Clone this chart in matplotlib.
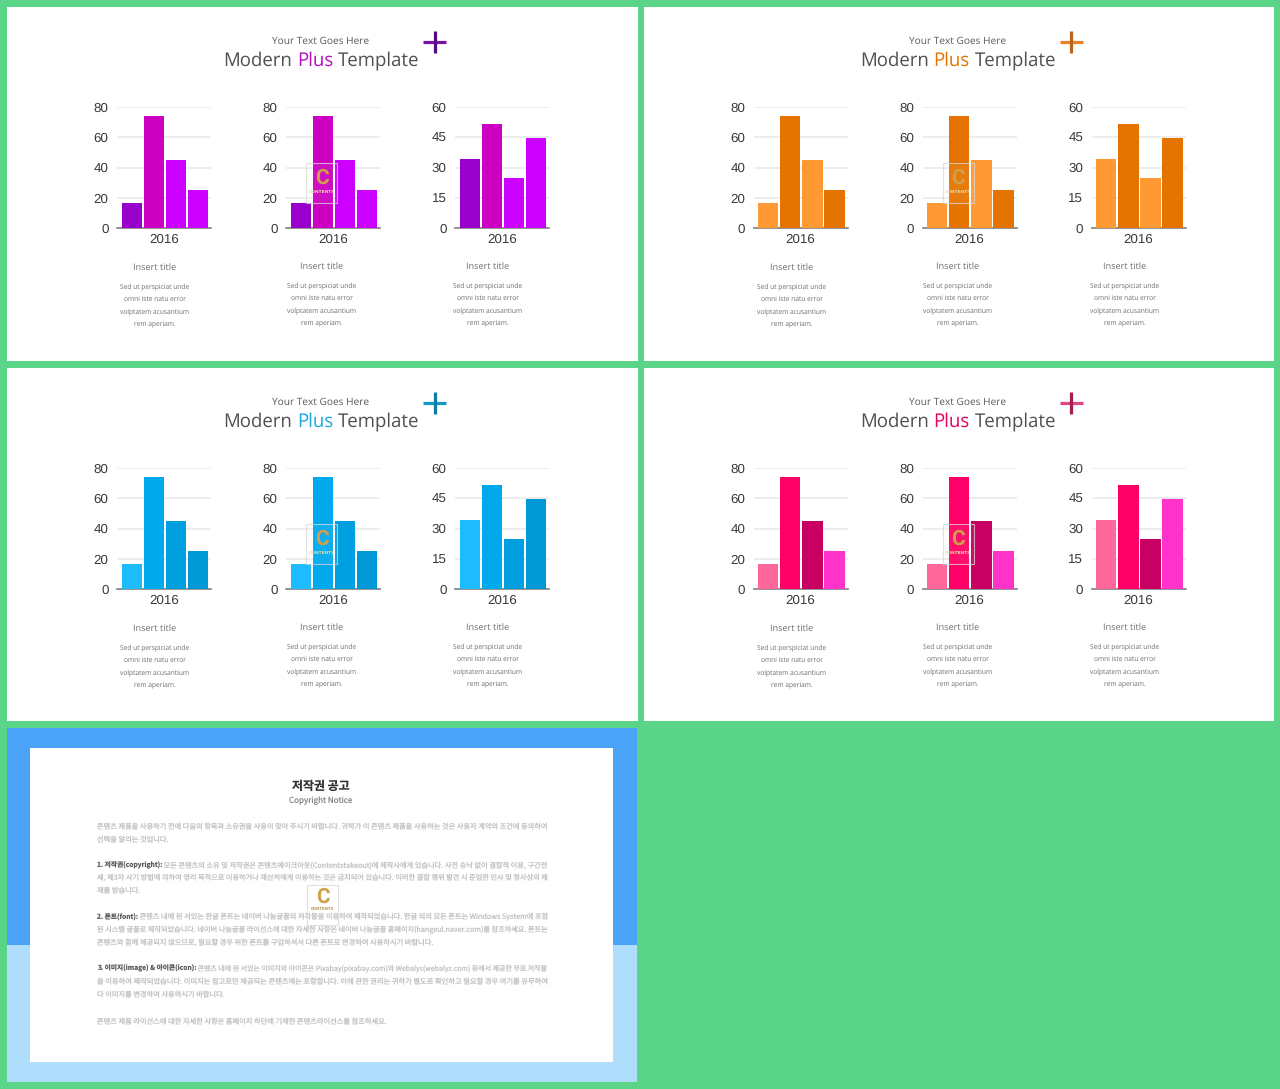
import matplotlib
matplotlib.use('Agg')
import matplotlib.pyplot as plt
from matplotlib.patches import Rectangle

plt.rcParams['text.hinting'] = 'no_hinting'

W, H = 1280, 1089

# --- data -------------------------------------------------------------------
chart_values = [[16.7, 74, 44.8, 25], [16.7, 74, 44.8, 25], [34, 51.5, 24.7, 44.6]]
chart_ymax = [80, 80, 60]
chart_ticks = [[0, 20, 40, 60, 80], [0, 20, 40, 60, 80], [0, 15, 30, 45, 60]]
year_label = '2016'

purple_bars = ['#9900CC', '#CC00C0', '#CC00FF', '#CC00FF']
orange_bars = ['#FF9933', '#E57300', '#FF9933', '#E57300']
blue_bars = ['#1EBBFF', '#00A8EC', '#009FDF', '#0099D6']
pink_bars = ['#FF6699', '#FF0066', '#C80062', '#FF33CC']

panel_bars = [purple_bars, orange_bars, blue_bars, pink_bars]
panel_accent = ['#B30FC4', '#E57300', '#1AA7DC', '#E6005C']
plus_h = ['#7A12A6', '#E8822E', '#1497C8', '#E0487F']
plus_v = ['#560A80', '#BC6418', '#0E7CA6', '#A81C55']
panel_dx = [0, 636.5, 0, 636.5]
panel_dy = [0, 0, 361, 361]

body_lines = ['Sed ut perspiciat unde', 'omni iste natu error', 'volptatem acusantium', 'rem aperiam.']

notice_title = '저작권 공고'
notice_sub = 'Copyright Notice'
notice_lines = [
    (826, '', '콘텐츠 제품을 사용하기 전에 다음의 항목과 소유권을 사용이 맞아 주시기 바랍니다. 귀하가 이 콘텐츠 제품을 사용하는 것은 사용자 계약의 조건에 동의하여'),
    (839, '', '선택을 알리는 것입니다.', False),
    (865, '1. 저작권(copyright):', ' 모든 콘텐츠의 소유 및 저작권은 콘텐츠메이크아웃(Contentstakeout)에 제작사에게 있습니다. 사전 승낙 없이 결합적 이용, 구간전'),
    (877, '', '세, 제3자 사기 방법에 의하여 영리 목적으로 이용하거나 재산처에게 이용하는 것은 금지되어 있습니다. 이러한 결합 행위 발견 시 준엄한 민사 및 형사상의 제'),
    (890, '', '재를 받습니다.', False),
    (917, '2. 폰트(font):', ' 콘텐츠 내에 된 서있는 한글 폰트는 네이버 나눔글꼴의 저작물을 이용하여 제작되었습니다. 한글 외의 모든 폰트는 Windows System에 포함'),
    (930, '', '된 시스템 글꼴로 제작되었습니다. 네이버 나눔글꼴 라이선스에 대한 자세한 사항은 네이버 나눔글꼴 홈페이지(hangeul.naver.com)를 참조하세요. 폰트는'),
    (942, '', '콘텐츠와 함께 제공되지 않으므로, 필요할 경우 위한 폰트를 구입하셔서 다른 폰트로 변경하여 사용하시기 바랍니다.', False),
    (968, '3. 이미지(image) & 아이콘(icon):', ' 콘텐츠 내에 된 서있는 이미지와 아이콘은 Pixabay(pixabay.com)와 Webalys(webalys.com) 등에서 제공한 무료 저작물'),
    (981, '', '을 이용하여 제작되었습니다. 이미지는 참고로만 제공되는 콘텐츠에는 포함합니다. 이에 관한 권리는 귀하가 별도로 확인하고 필요할 경우 여기를 유무하여'),
    (994, '', '다 이미지를 변경하여 사용하시기 바랍니다.', False),
    (1021, '', '콘텐츠 제품 라이선스에 대한 자세한 사항은 홈페이지 하단에 기재한 콘텐츠라이선스를 참조하세요.', False),
]

# --- helpers ----------------------------------------------------------------
fig = plt.figure(figsize=(W / 100, H / 100), dpi=100, facecolor='#5AD587')
bg = fig.add_axes([0, 0, 1, 1], zorder=0)
bg.set_xlim(0, W)
bg.set_ylim(H, 0)
bg.axis('off')
top = fig.add_axes([0, 0, 1, 1], zorder=5)
top.set_xlim(0, W)
top.set_ylim(H, 0)
top.axis('off')
top.patch.set_alpha(0)


def text_width(t):
    return t.get_window_extent(fig.canvas.get_renderer()).width


def chained_text(ax, cx, y, parts, size, family='Open Sans'):
    # place differently coloured pieces one after the other, centred on cx
    items = [ax.text(0, y, s, color=c, fontsize=size, family=family, ha='left', va='center') for s, c in parts]
    space = size * 100 / 72 * 0.26
    total = sum(text_width(i) for i in items) + space * (len(items) - 1)
    x = cx - total / 2
    for i in items:
        i.set_x(x)
        x += text_width(i) + space


def watermark(ax, x0, y0, w, h, c_y=15):
    ax.add_patch(Rectangle((x0, y0), w, h, fc='#FFFFFF', alpha=0.06, ec='none'))
    ax.add_patch(Rectangle((x0, y0), w, h, fc='none', ec='#D8D8D8', lw=0.8, alpha=0.75))
    ax.text(x0 + w / 2, y0 + c_y, 'C', color='#CFA048', fontsize=15, family='Roboto', weight='bold',
            ha='center', va='center')


def draw_chart(px, py, values, ymax, ticks, colors):
    ax = fig.add_axes([px / W, 1 - (py + 121) / H, 94 / W, 121 / H], zorder=2)
    ax.patch.set_alpha(0)
    ax.bar(range(4), values, width=0.91, color=colors, zorder=3)
    ax.set_xlim(-0.68, 3.59)
    ax.set_ylim(0, ymax)
    ax.set_yticks(ticks)
    ax.set_xticks([1.45])
    ax.set_xticklabels([year_label])
    ax.grid(axis='y', color='#EAEAEA', lw=1.2, zorder=0)
    ax.set_axisbelow(True)
    ax.tick_params(length=0, labelsize=9.6, labelcolor='#3A3A3A', pad=6)
    ax.tick_params(axis='x', pad=4)
    for s in ['top', 'left', 'right']:
        ax.spines[s].set_visible(False)
    ax.spines['bottom'].set_color('#808080')
    ax.spines['bottom'].set_linewidth(1.2)
    for lab in ax.get_xticklabels() + ax.get_yticklabels():
        lab.set_family('Liberation Sans')


# --- four chart panels ------------------------------------------------------
for k in range(4):
    dx, dy = panel_dx[k], panel_dy[k]
    bg.add_patch(Rectangle((7 + dx, 7 + dy), 630.5, 354 - (1 if dy else 0), fc='white', ec='none'))
    bg.text(321 + dx, 41 + dy, 'Your Text Goes Here', color='#5A5A5A', fontsize=7.3, family='Open Sans',
            ha='center', va='center')
    chained_text(bg, 321.5 + dx, 60.5 + dy,
                 [('Modern', '#505050'), ('Plus', panel_accent[k]), ('Template', '#505050')], 13.4)
    bg.plot([423 + dx, 446 + dx], [42 + dy, 42 + dy], color=plus_h[k], lw=2.3, solid_capstyle='butt')
    bg.plot([434.5 + dx, 434.5 + dx], [31 + dy, 53 + dy], color=plus_v[k], lw=2.3, solid_capstyle='butt')

    for j in range(3):
        draw_chart(117 + 169 * j + dx, 107 + dy, chart_values[j], chart_ymax[j], chart_ticks[j], panel_bars[k])
        tx = [155, 321.5, 488][j] + dx
        off = 1 if j == 0 else 0
        bg.text(tx, 267 + off * 0.5 + dy, 'Insert title', color='#6E6E6E', fontsize=6.6, family='Open Sans',
                ha='center', va='center')
        for n, line in enumerate(body_lines):
            bg.text(tx, 286 + off * 0.5 + n * 12.3 + dy, line, color='#6E6E6E', fontsize=4.8, family='Open Sans',
                    ha='center', va='center')
    watermark(top, 306 + dx, 163 + dy, 31, 40)
    top.text(321.5 + dx, 192.5 + dy, 'CONTENTS', color='#E8D9A8', fontsize=3.2, weight='bold',
             ha='center', va='center')

# --- copyright panel --------------------------------------------------------
bg.add_patch(Rectangle((7, 728), 630, 217, fc='#4AA3F7', ec='none'))
bg.add_patch(Rectangle((7, 945), 630, 137, fc='#AEDEFB', ec='none'))
bg.add_patch(Rectangle((30, 748), 583, 314, fc='white', ec='none'))

kr = ['Noto Sans CJK KR', 'DejaVu Sans']
bg.text(321, 786.5, notice_title, color='#333333', fontsize=8.6, weight='bold', family=kr, ha='center', va='center')
bg.text(321, 801, notice_sub, color='#8A8A8A', fontsize=5.8, family=kr, ha='center', va='center')

X0, X1 = 97, 547
for entry in notice_lines:
    y, lead, rest = entry[:3]
    fit = entry[3] if len(entry) > 3 else True
    size = 5.2
    a = bg.text(X0, y, lead, color='#5C5C5C', fontsize=size * 0.93, weight='bold', family=kr, ha='left', va='center') if lead else None
    b = bg.text(X0, y, rest, color='#C2C2C2', fontsize=size, family=kr, ha='left', va='center')
    lead_w = text_width(a) if a else 0
    if fit:
        # full lines run to the right margin
        size = size * (X1 - X0 - lead_w) / text_width(b)
        b.set_fontsize(size)
    b.set_x(X0 + lead_w)

watermark(top, 307, 885, 31, 40, c_y=12)
top.text(322.5, 909.5, 'CONTENTS', color='#B89A50', fontsize=2.8, weight='bold', ha='center', va='center')

fig.savefig('out.png', dpi=100, facecolor=fig.get_facecolor())
